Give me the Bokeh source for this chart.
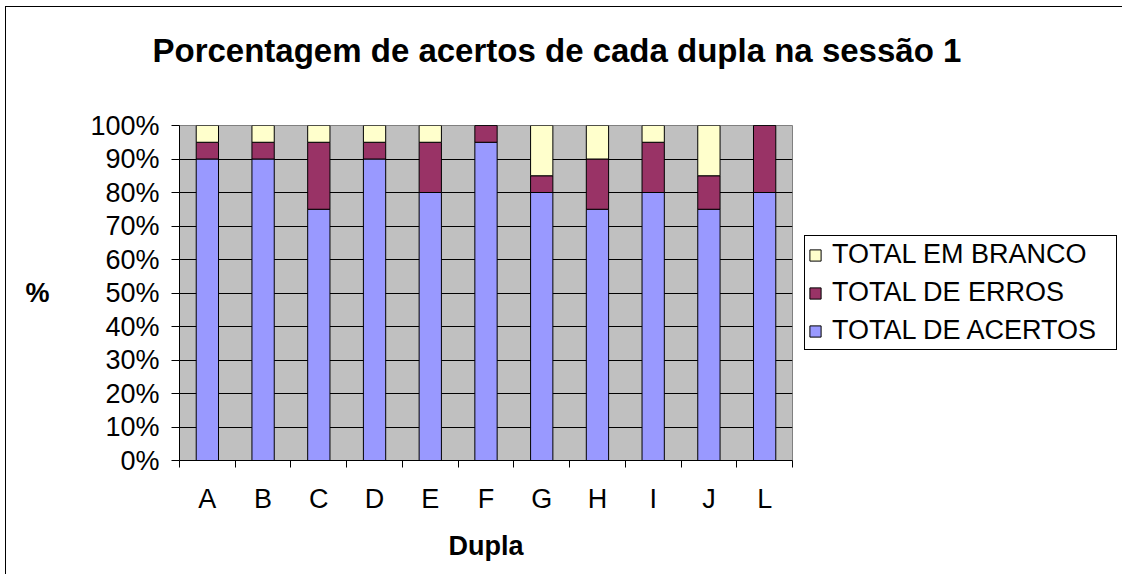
from bokeh.plotting import figure
from bokeh.models import (Legend, LegendItem, FixedTicker, NumeralTickFormatter,
                          Range1d, ColumnDataSource, Title)
from bokeh.embed import file_html
from bokeh.resources import INLINE

categories = ["A", "B", "C", "D", "E", "F", "G", "H", "I", "J", "L"]
acertos = [0.90, 0.90, 0.75, 0.90, 0.80, 0.95, 0.80, 0.75, 0.80, 0.75, 0.80]
erros = [0.05, 0.05, 0.20, 0.05, 0.15, 0.05, 0.05, 0.15, 0.15, 0.10, 0.20]
branco = [0.05, 0.05, 0.05, 0.05, 0.05, 0.00, 0.15, 0.10, 0.05, 0.15, 0.00]
series_names = ["TOTAL DE ACERTOS", "TOTAL DE ERROS", "TOTAL EM BRANCO"]
colors = ["#9999FF", "#993366", "#FFFFCC"]
y_ticks = [i / 10 for i in range(11)]
title_text = "Porcentagem de acertos de cada dupla na sessão 1"

FONT = "Liberation Sans"

xpos = [i + 0.5 for i in range(len(categories))]
src = ColumnDataSource(dict(x=xpos, acertos=acertos, erros=erros, branco=branco))

p = figure(frame_width=613, frame_height=335, output_backend="svg", toolbar_location=None,
           x_range=Range1d(0, len(categories)), y_range=Range1d(0, 1),
           min_border_left=173, min_border_right=325, min_border_top=118,
           min_border_bottom=115, title=None)
p.styles = {"margin-left": "6px", "margin-top": "7px",
            "box-shadow": "-1px -1px 0px 0px black"}

renderers = p.vbar_stack(["acertos", "erros", "branco"], x="x", width=0.4,
                         source=src, color=colors, line_color="black", line_width=1)

# invisible spacer nearest the frame, then the real title outside it
spacer = Title(text=".", text_font_size="2px", text_color="white", standoff=54)
p.add_layout(spacer, "above")
title = Title(text=title_text, text_font=FONT, text_font_size="33px",
              text_font_style="bold", text_color="black", align="left",
              offset=-27, standoff=0)
p.add_layout(title, "above")

p.background_fill_color = "#C0C0C0"
p.border_fill_color = "white"
p.outline_line_color = "#808080"
p.outline_line_alpha = 1

p.xgrid.visible = False
p.ygrid.ticker = FixedTicker(ticks=y_ticks)
p.ygrid.grid_line_color = "black"
p.ygrid.grid_line_width = 1

# y axis
p.yaxis.ticker = FixedTicker(ticks=y_ticks)
p.yaxis.formatter = NumeralTickFormatter(format="0%")
p.yaxis.major_tick_out = 8
p.yaxis.major_tick_in = 0
p.yaxis.minor_tick_out = 0
p.yaxis.minor_tick_in = 0
p.yaxis.axis_line_color = "black"
p.yaxis.major_label_text_font = FONT
p.yaxis.major_label_text_font_size = "27px"
p.yaxis.major_label_text_color = "black"
p.yaxis.major_label_standoff = 12
p.yaxis.axis_label = "%"
p.yaxis.axis_label_orientation = "horizontal"
p.yaxis.axis_label_text_font = FONT
p.yaxis.axis_label_text_font_size = "27px"
p.yaxis.axis_label_text_font_style = "bold"
p.yaxis.axis_label_text_color = "black"
p.yaxis.axis_label_standoff = 38

# x axis
p.xaxis.ticker = FixedTicker(ticks=xpos, minor_ticks=list(range(len(categories) + 1)))
p.xaxis.major_label_overrides = {x: c for x, c in zip(xpos, categories)}
p.xaxis.major_tick_out = 0
p.xaxis.major_tick_in = 0
p.xaxis.minor_tick_out = 7
p.xaxis.minor_tick_in = 0
p.xaxis.axis_line_color = "black"
p.xaxis.major_label_text_font = FONT
p.xaxis.major_label_text_font_size = "27px"
p.xaxis.major_label_text_color = "black"
p.xaxis.major_label_standoff = 16
p.xaxis.axis_label = "Dupla"
p.xaxis.axis_label_text_font = FONT
p.xaxis.axis_label_text_font_size = "27px"
p.xaxis.axis_label_text_font_style = "bold"
p.xaxis.axis_label_text_color = "black"
p.xaxis.axis_label_standoff = 14

items = [LegendItem(label=series_names[i], renderers=[renderers[i]]) for i in (2, 1, 0)]
legend = Legend(items=items, location=(12, 110), label_text_font=FONT,
                label_text_font_size="27px", label_text_color="black",
                glyph_width=14, glyph_height=14, label_height=30,
                label_standoff=10, padding=3, spacing=7, margin=0, label_width=281,
                border_line_color="black", border_line_width=1, border_line_alpha=1,
                background_fill_color="white", background_fill_alpha=1)
p.add_layout(legend, "right")

open("out.html", "w").write(file_html(p, INLINE))
